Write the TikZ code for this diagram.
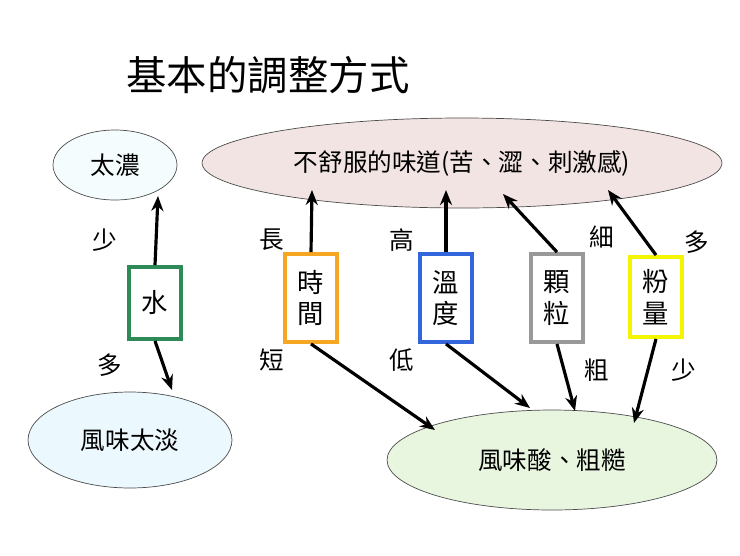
\documentclass[tikz,border=0pt]{standalone}
\usepackage{fontspec}
\setmainfont{Noto Sans CJK TC}
\usetikzlibrary{arrows.meta,shapes.geometric}
\definecolor{boxgreen}{HTML}{2E8B57}
\definecolor{boxorange}{HTML}{F5A623}
\definecolor{boxblue}{HTML}{3366DD}
\definecolor{boxgray}{HTML}{999999}
\definecolor{boxyellow}{HTML}{F5F500}
\definecolor{pinkfill}{HTML}{F2E4E2}
\tikzset{
  oval/.style={draw=black!70, ellipse, inner sep=0pt, font=\fontsize{14}{16}\selectfont},
  knob/.style={draw, line width=2.2pt, fill=white, minimum width=1.04cm, inner sep=2pt, align=center, font=\fontsize{15}{18}\selectfont},
  lbl/.style={font=\fontsize{14}{16}\selectfont},
  arr/.style={-{Stealth[length=3mm,width=2.4mm]}, line width=1.8pt}
}
\begin{document}
\begin{tikzpicture}[x=0.02cm,y=-0.02cm]
\useasboundingbox (0,0) rectangle (740,555);
% title
\node[font=\fontsize{23}{26}\selectfont] (title) at (268,75) {基本的調整方式};
% ellipses
\node[oval, fill=cyan!4, minimum width=2.48cm, minimum height=1.4cm] (strong) at (115,165) {太濃};
\node[oval, fill=pinkfill, minimum width=10.4cm, minimum height=1.8cm] (bitter) at (462,163) {不舒服的味道(苦、澀、刺激感)};
\node[oval, fill=cyan!8, minimum width=4.08cm, minimum height=1.92cm] (weak) at (130,440) {風味太淡};
\node[oval, fill=yellow!25!green!12, minimum width=6.6cm, minimum height=2cm] (sour) at (552,460) {風味酸、粗糙};
% knobs
\node[knob, draw=boxgreen, minimum height=1.44cm] (water) at (155,303) {水};
\node[knob, draw=boxorange, minimum height=1.76cm] (time) at (311,298) {時\\間};
\node[knob, draw=boxblue, minimum height=1.76cm] (temp) at (446,298) {溫\\度};
\node[knob, draw=boxgray, minimum height=1.76cm] (grind) at (557,298) {顆\\粒};
\node[knob, draw=boxyellow, minimum height=1.6cm] (dose) at (656,297) {粉\\量};
% arrow ends
\coordinate (e1) at (158,196);
\coordinate (e2) at (172,390);
\coordinate (e3) at (312,190);
\coordinate (e4) at (435,430);
\coordinate (e5) at (446,190);
\coordinate (e6) at (530,408);
\coordinate (e7) at (503,194);
\coordinate (e8) at (575,411);
\coordinate (e9) at (608,190);
\coordinate (e10) at (634,423);
% connectors
\draw[arr] (water.north) -- (e1);
\draw[arr] (water.south) -- (e2);
\draw[arr] (time.north) -- (e3);
\draw[arr] (time.south) -- (e4);
\draw[arr] (temp.north) -- (e5);
\draw[arr] (temp.south) -- (e6);
\draw[arr] (grind.north) -- (e7);
\draw[arr] (grind.south) -- (e8);
\draw[arr] (dose.north) -- (e9);
\draw[arr] (dose.south) -- (e10);
% labels
\node[lbl] (l1) at (105,240) {少};
\node[lbl] (l2) at (110,365) {多};
\node[lbl] (l3) at (272,240) {長};
\node[lbl] (l4) at (272,360) {短};
\node[lbl] (l5) at (402,240) {高};
\node[lbl] (l6) at (402,360) {低};
\node[lbl] (l7) at (602,237) {細};
\node[lbl] (l8) at (597,370) {粗};
\node[lbl] (l9) at (697,242) {多};
\node[lbl] (l10) at (684,370) {少};
\end{tikzpicture}
\end{document}
